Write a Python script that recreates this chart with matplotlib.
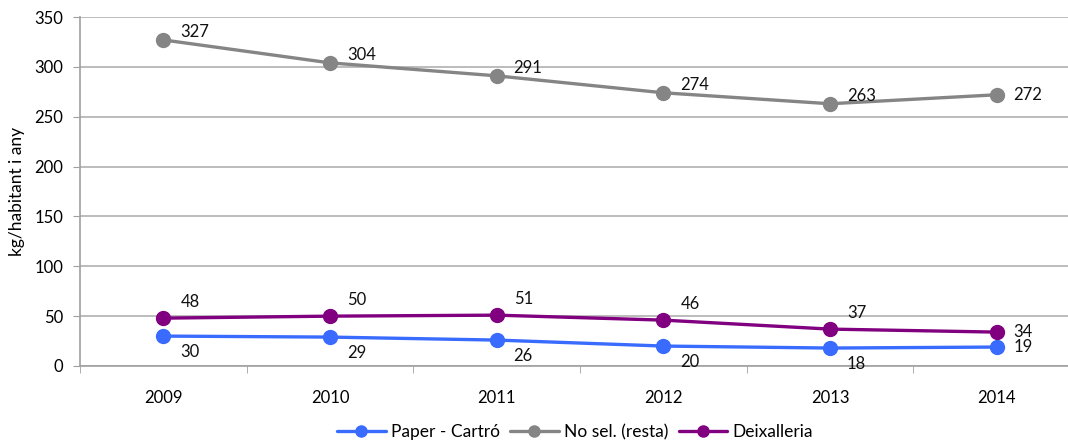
import matplotlib
matplotlib.use("Agg")
import matplotlib.pyplot as plt
from matplotlib.transforms import offset_copy

plt.rcParams['font.family'] = ['Lato', 'DejaVu Sans']

years = ["2009", "2010", "2011", "2012", "2013", "2014"]
paper = [30, 29, 26, 20, 18, 19]
nosel = [327, 304, 291, 274, 263, 272]
deix = [48, 50, 51, 46, 37, 34]
series_names = ["Paper - Cartró", "No sel. (resta)", "Deixalleria"]
colors = ["#3A6BFF", "#858585", "#800080"]
ylabel = "kg/habitant i any"

W, H = 1068, 441
fig = plt.figure(figsize=(W / 100, H / 100), dpi=100)
ax = fig.add_axes([80 / W, 75 / H, 1000 / W, 349 / H])

x = list(range(len(years)))
data = [paper, nosel, deix]
lines = []
for vals, name, c in zip(data, series_names, colors):
    ln, = ax.plot(x, vals, color=c, lw=2.4, marker='o', markersize=10,
                  label=name, zorder=3, solid_capstyle='round')
    lines.append(ln)

# label offsets in pixels (dx, dy)
offs = {0: (17, -16), 1: (17, 8), 2: (17, 16)}
for si, vals in enumerate(data):
    for i, v in enumerate(vals):
        dx, dy = offs[si]
        if i == len(vals) - 1:
            dx, dy = (17, 0)
        tr = offset_copy(ax.transData, fig=fig, x=dx, y=dy, units='dots')
        ax.text(i, v, str(v), transform=tr, ha='left', va='center',
                fontsize=12, color='#111111')

ax.set_xlim(-0.5, 5.5)
ax.set_ylim(0, 350)
ax.set_yticks(range(0, 351, 50))
ax.set_xticks(x)
ax.set_xticklabels(years)
ax.set_xticks([i - 0.5 for i in range(len(years) + 1)], minor=True)
ax.tick_params(axis='x', which='major', length=0, pad=17, labelsize=12)
ax.tick_params(axis='x', which='minor', length=5, color='#A0A0A0', direction='out')
ax.tick_params(axis='y', length=5, color='#A0A0A0', labelsize=12, pad=7)
ax.grid(axis='y', color='#B0B0B0', lw=1.2)
ax.set_axisbelow(True)
for s in ['top', 'right']:
    ax.spines[s].set_visible(False)
for s in ['left', 'bottom']:
    ax.spines[s].set_color('#A0A0A0')
    ax.spines[s].set_linewidth(1.2)
ax.set_ylabel(ylabel, fontsize=12.5)
ax.yaxis.set_label_coords(-0.055, 0.5)

fig.legend(handles=lines, labels=series_names, loc='center',
           bbox_to_anchor=(575 / W, 1 - 432 / H), ncol=3, frameon=False,
           fontsize=12.5, handlelength=2.8, columnspacing=0.6, handletextpad=0.3,
           markerscale=0.8)

fig.savefig("out.png", dpi=100)
